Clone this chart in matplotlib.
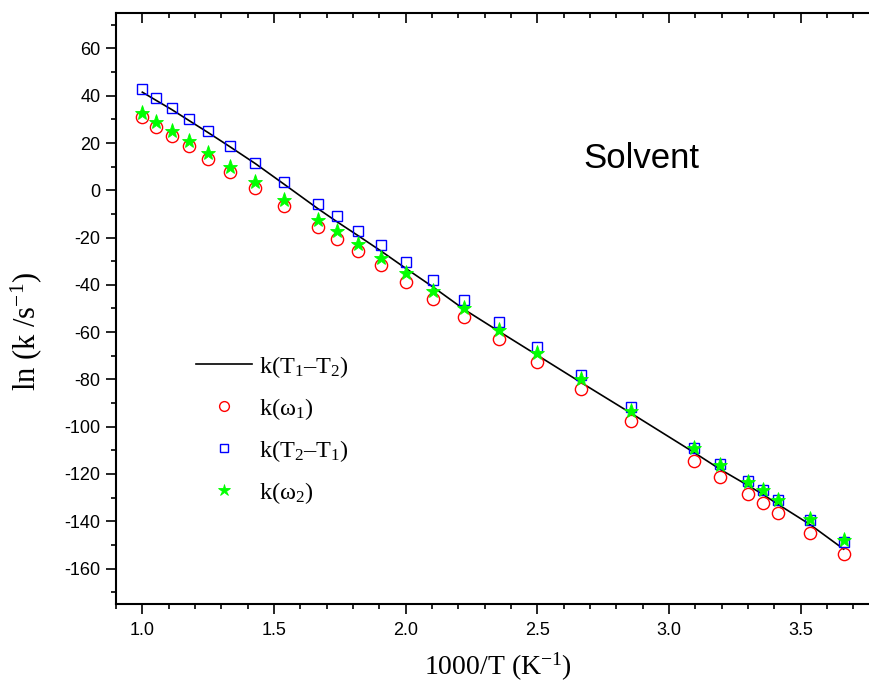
"""Arrhenius-type plot: ln k against 1000/T for the solvent case."""

import matplotlib
matplotlib.use("Agg")
import matplotlib.pyplot as plt
from matplotlib.ticker import MultipleLocator

# 1000/T values (K^-1)
inv_temp = [1.000, 1.053, 1.111, 1.176, 1.250, 1.333, 1.429, 1.538, 1.667, 1.739,
            1.818, 1.905, 2.000, 2.105, 2.222, 2.353, 2.500, 2.667, 2.857, 3.096,
            3.195, 3.300, 3.356, 3.413, 3.534, 3.663]

# ln(k / s^-1) for each rate
k_t1_t2 = [41.5, 38.0, 34.2, 29.6, 24.4, 18.4, 11.3, 2.6, -7.8, -13.3,
           -19.1, -25.6, -33.0, -41.0, -50.4, -59.6, -69.8, -81.4, -94.4, -111.0,
           -118.1, -124.9, -128.6, -132.8, -141.3, -151.8]
k_omega1 = [30.8, 26.8, 22.9, 18.6, 13.3, 7.6, 1.1, -6.5, -15.5, -20.5,
            -25.8, -31.8, -38.6, -45.8, -53.8, -62.9, -72.7, -84.2, -97.6, -114.3,
            -121.2, -128.5, -132.2, -136.3, -144.8, -153.8]
k_t2_t1 = [42.7, 38.9, 34.9, 30.2, 24.9, 18.8, 11.6, 3.7, -5.6, -11.0,
           -17.1, -23.3, -30.5, -38.0, -46.3, -55.8, -66.4, -78.1, -91.7, -108.8,
           -115.8, -123.0, -126.6, -130.9, -139.3, -148.6]
k_omega2 = [32.8, 28.8, 25.1, 20.8, 15.8, 9.9, 3.5, -3.9, -12.4, -17.4,
            -22.7, -28.7, -34.9, -42.4, -50.0, -58.9, -68.8, -79.8, -93.2, -109.0,
            -116.0, -123.2, -126.7, -130.8, -139.0, -147.9]

labels = ["k(T$_1$–T$_2$)", "k(ω$_1$)", "k(T$_2$–T$_1$)", "k(ω$_2$)"]

plt.rcParams["font.family"] = ["Liberation Sans", "DejaVu Sans"]
plt.rcParams["mathtext.fontset"] = "custom"
plt.rcParams["mathtext.rm"] = "Liberation Serif"
plt.rcParams["mathtext.it"] = "Liberation Serif:italic"
plt.rcParams["axes.unicode_minus"] = False

W, H = 870, 683
fig = plt.figure(figsize=(W / 100, H / 100), dpi=100)
# right spine sits just past the image edge, as in the reference
ax = fig.add_axes([116 / W, 1 - 604 / H, (879 - 116) / W, (604 - 13) / H])

line, = ax.plot(inv_temp, k_t1_t2, color="black", lw=1.2, zorder=2)
circ, = ax.plot(inv_temp, k_omega1, ls="none", marker="o", ms=8.8, mfc="none",
                mec="#ff0000", mew=1.0, zorder=3)
sq, = ax.plot(inv_temp, k_t2_t1, ls="none", marker="s", ms=7.6, mfc="none",
              mec="#0000ff", mew=1.0, zorder=4)
star, = ax.plot(inv_temp, k_omega2, ls="none", marker="*", ms=11, mfc="#00ff00",
                mec="#00ff00", mew=0.6, zorder=5)

ax.set_xlim(0.9, 3.797)
ax.set_ylim(-175, 75)
ax.xaxis.set_major_locator(MultipleLocator(0.5))
ax.xaxis.set_minor_locator(MultipleLocator(0.1))
ax.yaxis.set_major_locator(MultipleLocator(20))
ax.yaxis.set_minor_locator(MultipleLocator(10))
ax.xaxis.set_major_formatter(plt.FormatStrFormatter("%.1f"))

for side in ax.spines.values():
    side.set_linewidth(1.5)
ax.tick_params(which="both", width=1.2, labelsize=13, top=True, right=True)
ax.tick_params(which="major", length=7.2)
ax.tick_params(which="minor", length=3.6)
ax.tick_params(axis="x", which="both", direction="out", pad=6)
ax.tick_params(axis="y", which="both", direction="out", pad=4)
# mirrored ticks on top/right point into the plot
for tick in ax.xaxis.get_major_ticks() + ax.xaxis.get_minor_ticks():
    tick.tick2line.set_marker(3)
for tick in ax.yaxis.get_major_ticks() + ax.yaxis.get_minor_ticks():
    tick.tick2line.set_marker(0)

ax.set_xlabel("1000/T (K$^{-1}$)", family="Liberation Serif", fontsize=20, labelpad=8)
ax.set_ylabel("ln (k /s$^{-1}$)", family="Liberation Serif", fontsize=22)
ax.yaxis.set_label_coords(-0.095, 0.462)

ax.text(2.673, 9.4, "Solvent", fontsize=25, ha="left", va="baseline")

ax.legend([line, circ, sq, star], labels, loc="upper left",
          bbox_to_anchor=(196 / W, 1 - 354 / H), bbox_transform=fig.transFigure,
          frameon=False, borderpad=0, borderaxespad=0, handlelength=2.3,
          handletextpad=0.3, labelspacing=0.66, markerscale=0.8,
          prop={"family": "Liberation Serif", "size": 17.5})

fig.savefig("out.png", dpi=100)
